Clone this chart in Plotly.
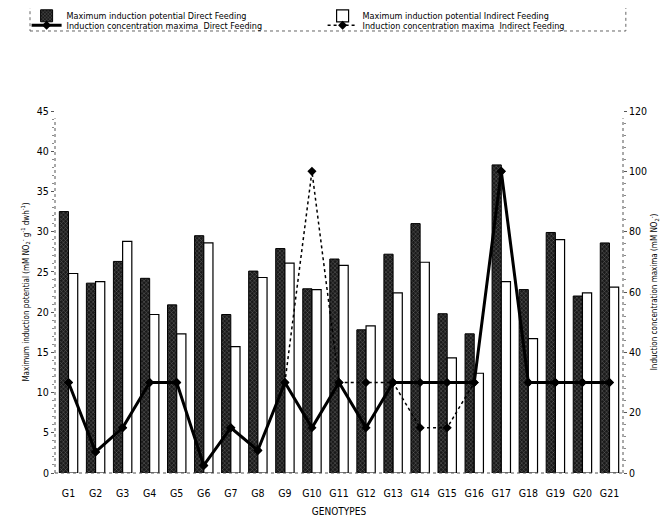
import plotly.graph_objects as go
from plotly.subplots import make_subplots

genotypes = [f"G{i}" for i in range(1, 22)]
potential_direct = [32.5, 23.6, 26.3, 24.2, 20.9, 29.5, 19.7, 25.1, 27.9, 22.9, 26.6,
                    17.8, 27.2, 31.0, 19.8, 17.3, 38.3, 22.8, 29.9, 22.0, 28.6]
potential_indirect = [24.8, 23.8, 28.8, 19.7, 17.3, 28.6, 15.7, 24.3, 26.1, 22.8, 25.8,
                      18.3, 22.4, 26.2, 14.3, 12.4, 23.8, 16.7, 29.0, 22.4, 23.1]
maxima_direct = [30, 7, 15, 30, 30, 2.5, 15, 7.5, 30, 15, 30,
                 15, 30, 30, 30, 30, 100, 30, 30, 30, 30]
maxima_indirect = [30, 7, 15, 30, 30, 2.5, 15, 7.5, 30, 100, 30,
                   30, 30, 15, 15, 30, 100, 30, 30, 30, 30]

FONT = "DejaVu Sans Condensed, Liberation Sans Narrow, Liberation Sans, sans-serif"

fig = make_subplots(specs=[[{"secondary_y": True}]])

fig.add_trace(go.Bar(
    x=genotypes, y=potential_direct, name="Maximum induction potential Direct Feeding",
    marker=dict(color="#1a1a1a", line=dict(color="black", width=1),
                pattern=dict(shape="x", fgcolor="#cfcfcf", size=3, solidity=0.25)),
    legend="legend",
), secondary_y=False)
fig.add_trace(go.Bar(
    x=genotypes, y=potential_indirect, name="Maximum induction potential Indirect Feeding",
    marker=dict(color="white", line=dict(color="black", width=1.2)),
    legend="legend",
), secondary_y=False)
fig.add_trace(go.Scatter(
    x=genotypes, y=maxima_direct, name="Induction concentration maxima  Direct Feeding",
    mode="lines+markers", line=dict(color="black", width=3),
    marker=dict(symbol="diamond", size=7, color="black"),
    legend="legend2",
), secondary_y=True)
fig.add_trace(go.Scatter(
    x=genotypes, y=maxima_indirect, name="Induction concentration maxima  Indirect Feeding",
    mode="lines+markers", line=dict(color="black", width=1.5, dash="dot"),
    marker=dict(symbol="diamond", size=7, color="black"),
    legend="legend2",
), secondary_y=True)

legend_common = dict(orientation="h", x=-0.05, xanchor="left", yanchor="middle",
                     entrywidth=251, entrywidthmode="pixels",
                     font=dict(size=9, family=FONT), bgcolor="rgba(0,0,0,0)",
                     tracegroupgap=0, itemwidth=30)

fig.update_layout(
    width=669, height=524,
    margin=dict(l=47, r=54, t=103, b=59, autoexpand=False),
    paper_bgcolor="white", plot_bgcolor="white",
    barmode="group", bargap=0.32, bargroupgap=0.0,
    font=dict(family=FONT, size=10, color="black"),
    showlegend=True,
    legend=dict(y=1.263, **legend_common),
    legend2=dict(y=1.237, **legend_common),
)

fig.update_xaxes(
    domain=[0, 1], range=[-0.5, 20.5],
    showline=False, ticks="outside", ticklen=10, tickcolor="rgba(0,0,0,0)",
    tickfont=dict(size=10.5),
    title=dict(text="GENOTYPES", font=dict(size=10), standoff=10),
    showgrid=False,
)
fig.update_yaxes(
    range=[0, 45], dtick=5, showgrid=False, showline=False, zeroline=False,
    ticks="outside", ticklen=3, tickcolor="#555", tickfont=dict(size=10.5),
    minor=dict(ticks="outside", ticklen=2, dtick=1, tickcolor="#888"),
    title=dict(text="Maximum induction potential (mM NO<sub>2</sub><sup>-</sup> g<sup>-1</sup> dwh<sup>-1</sup>)",
               font=dict(size=8), standoff=6),
    secondary_y=False,
)
fig.update_yaxes(
    range=[0, 120], dtick=20, showgrid=False, showline=False, zeroline=False,
    ticks="outside", ticklen=3, tickcolor="#555", tickfont=dict(size=10.5),
    minor=dict(ticks="outside", ticklen=2, dtick=4, tickcolor="#888"),
    title=dict(text="Induction concentration maxima (mM NO<sub>2</sub><sup>-</sup>)",
               font=dict(size=8), standoff=5),
    secondary_y=True,
)

# dotted axis lines and legend frame
fig.add_shape(type="line", xref="paper", yref="paper", x0=0, x1=0, y0=0, y1=0.98,
              line=dict(color="#555", width=1, dash="dot"))
fig.add_shape(type="line", xref="paper", yref="paper", x0=1, x1=1, y0=0, y1=0.98,
              line=dict(color="#555", width=1, dash="dot"))
fig.add_shape(type="line", xref="paper", yref="paper", x0=0, x1=1, y0=0, y1=0,
              line=dict(color="#555", width=1, dash="dot"))
fig.add_shape(type="rect", xref="paper", yref="paper", x0=-0.044, x1=1.005, y0=1.221, y1=1.293,
              line=dict(color="#666", width=1, dash="dot"))

fig.write_html("out.html")
